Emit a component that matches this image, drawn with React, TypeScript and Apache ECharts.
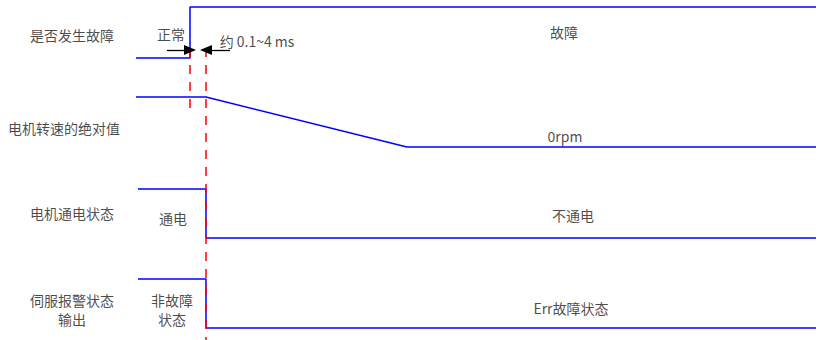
import React, { useEffect, useRef } from "react";
import * as echarts from "echarts";

// Timing signals (time axis units, level axis units)
const faultT = [136, 190, 190, 816];
const faultV = [58, 58, 7, 7];
const speedT = [136, 206, 407, 816];
const speedV = [97, 97, 147, 147];
const powerT = [138, 206, 206, 816];
const powerV = [189, 189, 238, 238];
const alarmT = [138, 206, 206, 816];
const alarmV = [279, 279, 328, 328];

// Red dashed markers
const markerT = [190, 206];
const markerTop = [48, 48];
const markerBottom = [114, 340];

// Arrows: [fromX, toX, y]
const arrows = [
  [167, 190, 50],
  [230, 206, 50],
];

// Text labels
const labelTexts = [
  "是否发生故障",
  "电机转速的绝对值",
  "电机通电状态",
  "伺服报警状态\n输出",
  "正常",
  "约 0.1~4 ms",
  "故障",
  "0rpm",
  "通电",
  "不通电",
  "非故障\n状态",
  "Err故障状态",
];
const labelX = [72, 64, 72, 72, 171, 257, 564, 565, 173, 573, 172, 571];
const labelY = [35, 128, 213, 309, 34, 41, 32, 136, 218, 215, 309, 308];

const BLUE = "#0000ff";
const RED = "#ff0000";
const FONT = "'Noto Sans CJK SC', 'Noto Sans', sans-serif";

function zip(t: number[], v: number[]) {
  return t.map((x, i) => [x, v[i]]);
}

export default function App() {
  const ref = useRef<HTMLDivElement>(null);
  useEffect(() => {
    if (!ref.current) return;
    const chart = echarts.init(ref.current, undefined, { renderer: "svg" });
    const signalSeries = [
      [faultT, faultV],
      [speedT, speedV],
      [powerT, powerV],
      [alarmT, alarmV],
    ].map(([t, v]) => ({
      type: "line",
      data: zip(t, v),
      symbol: "none",
      lineStyle: { color: BLUE, width: 1.5 },
      z: 3,
    }));
    const markerSeries = markerT.map((x, i) => ({
      type: "line",
      data: [
        [x, markerTop[i]],
        [x, markerBottom[i]],
      ],
      symbol: "none",
      lineStyle: { color: RED, width: 1.5, type: [9, 8] },
      z: 4,
    }));
    const arrowSeries = {
      type: "line",
      data: [],
      markLine: {
        silent: true,
        symbol: ["none", "triangle"],
        symbolSize: [10, 12],
        label: { show: false },
        lineStyle: { color: "#000", width: 1.3, type: "solid" },
        data: arrows.map(([a, b, y]) => [{ coord: [a, y] }, { coord: [b, y] }]),
      },
    };
    const labelSeries = {
      type: "scatter",
      symbolSize: 0,
      data: labelTexts.map((s, i) => ({ name: s, value: [labelX[i], labelY[i]] })),
      label: {
        show: true,
        position: "inside",
        formatter: "{b}",
        color: "#1a1a1a",
        fontSize: 14,
        fontFamily: FONT,
        lineHeight: 19,
        align: "center",
        verticalAlign: "middle",
      },
      z: 5,
    };
    chart.setOption({
      animation: false,
      grid: { left: 0, top: 0, right: 0, bottom: 0 },
      xAxis: { type: "value", min: 0, max: 819, show: false },
      yAxis: { type: "value", min: 0, max: 340, inverse: true, show: false },
      series: [...signalSeries, ...markerSeries, arrowSeries, labelSeries],
    });
    return () => chart.dispose();
  }, []);
  return (
    <div
      ref={ref}
      style={{ position: "fixed", left: 0, top: 0, width: 819, height: 340, background: "#fff" }}
    />
  );
}
